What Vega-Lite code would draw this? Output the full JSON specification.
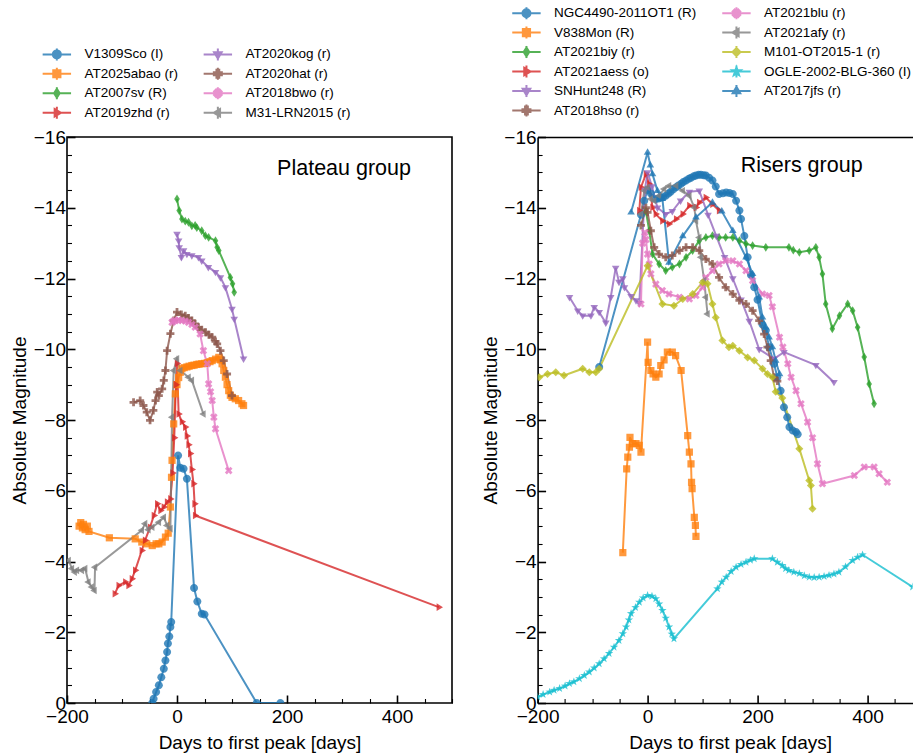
{
"$schema": "https://vega.github.io/schema/vega-lite/v6.json",
"padding": {"left": 9, "top": 6, "right": 0, "bottom": 4},
"background": "white",
"config": {
  "font": "Liberation Sans",
  "view": {"stroke": "black", "strokeWidth": 1.6},
  "axis": {"labelFont": "Liberation Sans", "labelFontSize": 19, "labelColor": "black", "titleFont": "Liberation Sans", "titleFontSize": 19, "titleFontWeight": "normal", "titleColor": "black", "grid": false, "tickColor": "black", "domainColor": "black", "domainWidth": 1.6, "labelOverlap": false, "labelFlush": false},
  "legend": {"labelFont": "Liberation Sans", "labelFontSize": 13.5, "labelColor": "black", "symbolSize": 64, "symbolStrokeWidth": 2, "symbolOpacity": 0.8, "labelOffset": 20.8, "columnPadding": 21, "rowPadding": -1.5, "padding": 0, "columns": 2, "orient": "none", "title": null},
  "title": {"font": "Liberation Sans", "fontWeight": "normal", "color": "black"}
},
"datasets": {
"plateau": [
{"s":"V1309Sco (I)","x":-45,"y":0},{"s":"V1309Sco (I)","x":-42.5,"y":-0.12},{"s":"V1309Sco (I)","x":-38,"y":-0.31},{"s":"V1309Sco (I)","x":-33,"y":-0.5},{"s":"V1309Sco (I)","x":-28.5,"y":-0.73},{"s":"V1309Sco (I)","x":-24,"y":-0.97},{"s":"V1309Sco (I)","x":-21,"y":-1.2},{"s":"V1309Sco (I)","x":-18,"y":-1.44},{"s":"V1309Sco (I)","x":-16.5,"y":-1.68},{"s":"V1309Sco (I)","x":-14,"y":-1.88},{"s":"V1309Sco (I)","x":-12,"y":-2.15},{"s":"V1309Sco (I)","x":-10.5,"y":-2.29},{"s":"V1309Sco (I)","x":2,"y":-7.0},{"s":"V1309Sco (I)","x":6,"y":-6.65},{"s":"V1309Sco (I)","x":12,"y":-6.62},{"s":"V1309Sco (I)","x":18,"y":-6.34},{"s":"V1309Sco (I)","x":31,"y":-3.25},{"s":"V1309Sco (I)","x":37,"y":-2.87},{"s":"V1309Sco (I)","x":45,"y":-2.52},{"s":"V1309Sco (I)","x":50,"y":-2.5},{"s":"V1309Sco (I)","x":145,"y":0},{"s":"V1309Sco (I)","x":188,"y":0},
{"s":"AT2025abao (r)","x":-178,"y":-5.0},{"s":"AT2025abao (r)","x":-175,"y":-5.1},{"s":"AT2025abao (r)","x":-172,"y":-4.95},{"s":"AT2025abao (r)","x":-170,"y":-5.05},{"s":"AT2025abao (r)","x":-167,"y":-4.9},{"s":"AT2025abao (r)","x":-163,"y":-5.0},{"s":"AT2025abao (r)","x":-160,"y":-4.85},{"s":"AT2025abao (r)","x":-123,"y":-4.67},{"s":"AT2025abao (r)","x":-76,"y":-4.64},{"s":"AT2025abao (r)","x":-64,"y":-4.55},{"s":"AT2025abao (r)","x":-55,"y":-4.5},{"s":"AT2025abao (r)","x":-45,"y":-4.45},{"s":"AT2025abao (r)","x":-38,"y":-4.5},{"s":"AT2025abao (r)","x":-33,"y":-4.5},{"s":"AT2025abao (r)","x":-27,"y":-4.55},{"s":"AT2025abao (r)","x":-21,"y":-4.69},{"s":"AT2025abao (r)","x":-16,"y":-4.8},{"s":"AT2025abao (r)","x":-12,"y":-5.54},{"s":"AT2025abao (r)","x":-10,"y":-6.38},{"s":"AT2025abao (r)","x":-9,"y":-6.86},{"s":"AT2025abao (r)","x":-6,"y":-7.89},{"s":"AT2025abao (r)","x":-3,"y":-8.74},{"s":"AT2025abao (r)","x":0,"y":-9.0},{"s":"AT2025abao (r)","x":3,"y":-9.2},{"s":"AT2025abao (r)","x":6,"y":-9.35},{"s":"AT2025abao (r)","x":9,"y":-9.45},{"s":"AT2025abao (r)","x":13,"y":-9.48},{"s":"AT2025abao (r)","x":18,"y":-9.5},{"s":"AT2025abao (r)","x":22,"y":-9.52},{"s":"AT2025abao (r)","x":27,"y":-9.54},{"s":"AT2025abao (r)","x":31,"y":-9.55},{"s":"AT2025abao (r)","x":36,"y":-9.57},{"s":"AT2025abao (r)","x":40,"y":-9.58},{"s":"AT2025abao (r)","x":45,"y":-9.59},{"s":"AT2025abao (r)","x":50,"y":-9.6},{"s":"AT2025abao (r)","x":55,"y":-9.62},{"s":"AT2025abao (r)","x":60,"y":-9.65},{"s":"AT2025abao (r)","x":64,"y":-9.68},{"s":"AT2025abao (r)","x":70,"y":-9.72},{"s":"AT2025abao (r)","x":76,"y":-9.77},{"s":"AT2025abao (r)","x":79,"y":-9.7},{"s":"AT2025abao (r)","x":82,"y":-9.59},{"s":"AT2025abao (r)","x":85,"y":-9.4},{"s":"AT2025abao (r)","x":88,"y":-9.21},{"s":"AT2025abao (r)","x":91,"y":-9.0},{"s":"AT2025abao (r)","x":94,"y":-8.83},{"s":"AT2025abao (r)","x":97,"y":-8.7},{"s":"AT2025abao (r)","x":100,"y":-8.64},{"s":"AT2025abao (r)","x":106,"y":-8.6},{"s":"AT2025abao (r)","x":112,"y":-8.55},{"s":"AT2025abao (r)","x":118,"y":-8.46},{"s":"AT2025abao (r)","x":121,"y":-8.41},
{"s":"AT2007sv (R)","x":0,"y":-14.25},{"s":"AT2007sv (R)","x":4,"y":-13.92},{"s":"AT2007sv (R)","x":9,"y":-13.68},{"s":"AT2007sv (R)","x":15,"y":-13.62},{"s":"AT2007sv (R)","x":21,"y":-13.59},{"s":"AT2007sv (R)","x":27,"y":-13.49},{"s":"AT2007sv (R)","x":33,"y":-13.5},{"s":"AT2007sv (R)","x":36,"y":-13.44},{"s":"AT2007sv (R)","x":45,"y":-13.35},{"s":"AT2007sv (R)","x":51.5,"y":-13.21},{"s":"AT2007sv (R)","x":57.5,"y":-13.16},{"s":"AT2007sv (R)","x":70,"y":-13.07},{"s":"AT2007sv (R)","x":73,"y":-12.88},{"s":"AT2007sv (R)","x":76,"y":-12.79},{"s":"AT2007sv (R)","x":97,"y":-12.03},{"s":"AT2007sv (R)","x":101,"y":-11.85},{"s":"AT2007sv (R)","x":104,"y":-11.61},
{"s":"AT2019zhd (r)","x":-113,"y":-3.09},{"s":"AT2019zhd (r)","x":-106,"y":-3.32},{"s":"AT2019zhd (r)","x":-94,"y":-3.42},{"s":"AT2019zhd (r)","x":-88,"y":-3.32},{"s":"AT2019zhd (r)","x":-82,"y":-3.51},{"s":"AT2019zhd (r)","x":-76,"y":-3.75},{"s":"AT2019zhd (r)","x":-64,"y":-4.31},{"s":"AT2019zhd (r)","x":-58,"y":-4.6},{"s":"AT2019zhd (r)","x":-49,"y":-4.97},{"s":"AT2019zhd (r)","x":-42,"y":-5.3},{"s":"AT2019zhd (r)","x":-36,"y":-5.63},{"s":"AT2019zhd (r)","x":-30,"y":-5.44},{"s":"AT2019zhd (r)","x":-24,"y":-5.54},{"s":"AT2019zhd (r)","x":-18,"y":-5.68},{"s":"AT2019zhd (r)","x":-12,"y":-5.77},{"s":"AT2019zhd (r)","x":-8,"y":-6.5},{"s":"AT2019zhd (r)","x":-5,"y":-7.5},{"s":"AT2019zhd (r)","x":-2,"y":-9.0},{"s":"AT2019zhd (r)","x":0,"y":-9.6},{"s":"AT2019zhd (r)","x":3,"y":-8.17},{"s":"AT2019zhd (r)","x":9,"y":-7.95},{"s":"AT2019zhd (r)","x":15,"y":-7.8},{"s":"AT2019zhd (r)","x":18,"y":-7.55},{"s":"AT2019zhd (r)","x":21,"y":-7.3},{"s":"AT2019zhd (r)","x":24,"y":-7.05},{"s":"AT2019zhd (r)","x":27,"y":-6.6},{"s":"AT2019zhd (r)","x":30,"y":-6.2},{"s":"AT2019zhd (r)","x":32,"y":-5.63},{"s":"AT2019zhd (r)","x":33,"y":-5.3},{"s":"AT2019zhd (r)","x":476,"y":-2.71},
{"s":"AT2020kog (r)","x":0,"y":-13.26},{"s":"AT2020kog (r)","x":3,"y":-13.07},{"s":"AT2020kog (r)","x":4,"y":-12.88},{"s":"AT2020kog (r)","x":8,"y":-12.6},{"s":"AT2020kog (r)","x":12,"y":-12.79},{"s":"AT2020kog (r)","x":18,"y":-12.69},{"s":"AT2020kog (r)","x":27,"y":-12.65},{"s":"AT2020kog (r)","x":39,"y":-12.6},{"s":"AT2020kog (r)","x":45,"y":-12.5},{"s":"AT2020kog (r)","x":57,"y":-12.32},{"s":"AT2020kog (r)","x":70,"y":-12.18},{"s":"AT2020kog (r)","x":79,"y":-12.03},{"s":"AT2020kog (r)","x":88,"y":-11.75},{"s":"AT2020kog (r)","x":100,"y":-11.14},{"s":"AT2020kog (r)","x":104,"y":-10.86},{"s":"AT2020kog (r)","x":121,"y":-9.73},
{"s":"AT2020hat (r)","x":-79,"y":-8.5},{"s":"AT2020hat (r)","x":-67,"y":-8.55},{"s":"AT2020hat (r)","x":-61,"y":-8.41},{"s":"AT2020hat (r)","x":-55,"y":-8.22},{"s":"AT2020hat (r)","x":-49,"y":-7.99},{"s":"AT2020hat (r)","x":-43,"y":-8.27},{"s":"AT2020hat (r)","x":-39,"y":-8.55},{"s":"AT2020hat (r)","x":-36,"y":-8.79},{"s":"AT2020hat (r)","x":-33,"y":-8.69},{"s":"AT2020hat (r)","x":-27,"y":-8.88},{"s":"AT2020hat (r)","x":-24,"y":-9.12},{"s":"AT2020hat (r)","x":-21,"y":-9.4},{"s":"AT2020hat (r)","x":-18,"y":-9.96},{"s":"AT2020hat (r)","x":-12,"y":-10.44},{"s":"AT2020hat (r)","x":-6,"y":-10.81},{"s":"AT2020hat (r)","x":0,"y":-11.05},{"s":"AT2020hat (r)","x":8,"y":-10.98},{"s":"AT2020hat (r)","x":15,"y":-10.95},{"s":"AT2020hat (r)","x":21,"y":-10.88},{"s":"AT2020hat (r)","x":27,"y":-10.81},{"s":"AT2020hat (r)","x":33,"y":-10.72},{"s":"AT2020hat (r)","x":39,"y":-10.62},{"s":"AT2020hat (r)","x":45,"y":-10.55},{"s":"AT2020hat (r)","x":52,"y":-10.48},{"s":"AT2020hat (r)","x":58,"y":-10.41},{"s":"AT2020hat (r)","x":64,"y":-10.34},{"s":"AT2020hat (r)","x":70,"y":-10.22},{"s":"AT2020hat (r)","x":73,"y":-10.15},{"s":"AT2020hat (r)","x":79,"y":-9.96},{"s":"AT2020hat (r)","x":85,"y":-9.68},{"s":"AT2020hat (r)","x":91,"y":-9.3},{"s":"AT2020hat (r)","x":100,"y":-8.69},
{"s":"AT2018bwo (r)","x":-9,"y":-10.76},{"s":"AT2018bwo (r)","x":-6,"y":-10.8},{"s":"AT2018bwo (r)","x":-3,"y":-10.81},{"s":"AT2018bwo (r)","x":3,"y":-10.83},{"s":"AT2018bwo (r)","x":9,"y":-10.81},{"s":"AT2018bwo (r)","x":15,"y":-10.8},{"s":"AT2018bwo (r)","x":21,"y":-10.76},{"s":"AT2018bwo (r)","x":27,"y":-10.7},{"s":"AT2018bwo (r)","x":33,"y":-10.62},{"s":"AT2018bwo (r)","x":42,"y":-10.43},{"s":"AT2018bwo (r)","x":48,"y":-9.96},{"s":"AT2018bwo (r)","x":55,"y":-9.59},{"s":"AT2018bwo (r)","x":57.5,"y":-9.02},{"s":"AT2018bwo (r)","x":61,"y":-8.8},{"s":"AT2018bwo (r)","x":64,"y":-8.55},{"s":"AT2018bwo (r)","x":67,"y":-8.08},{"s":"AT2018bwo (r)","x":70,"y":-7.75},{"s":"AT2018bwo (r)","x":94,"y":-6.57},
{"s":"M31-LRN2015 (r)","x":-197,"y":-4.03},{"s":"M31-LRN2015 (r)","x":-191,"y":-3.8},{"s":"M31-LRN2015 (r)","x":-186,"y":-3.7},{"s":"M31-LRN2015 (r)","x":-182,"y":-3.75},{"s":"M31-LRN2015 (r)","x":-173,"y":-3.75},{"s":"M31-LRN2015 (r)","x":-167,"y":-3.8},{"s":"M31-LRN2015 (r)","x":-161,"y":-3.42},{"s":"M31-LRN2015 (r)","x":-155,"y":-3.28},{"s":"M31-LRN2015 (r)","x":-150,"y":-3.18},{"s":"M31-LRN2015 (r)","x":-149,"y":-3.84},{"s":"M31-LRN2015 (r)","x":-64,"y":-4.88},{"s":"M31-LRN2015 (r)","x":-58,"y":-5.07},{"s":"M31-LRN2015 (r)","x":-52,"y":-4.9},{"s":"M31-LRN2015 (r)","x":-45,"y":-4.97},{"s":"M31-LRN2015 (r)","x":-33,"y":-5.11},{"s":"M31-LRN2015 (r)","x":-24,"y":-5.25},{"s":"M31-LRN2015 (r)","x":-18,"y":-5.02},{"s":"M31-LRN2015 (r)","x":-12,"y":-4.93},{"s":"M31-LRN2015 (r)","x":-9,"y":-8.08},{"s":"M31-LRN2015 (r)","x":-6,"y":-9.4},{"s":"M31-LRN2015 (r)","x":0,"y":-9.73},{"s":"M31-LRN2015 (r)","x":6,"y":-9.4},{"s":"M31-LRN2015 (r)","x":21,"y":-9.21},{"s":"M31-LRN2015 (r)","x":27,"y":-9.12},{"s":"M31-LRN2015 (r)","x":48,"y":-8.17}
],
"risers": [
{"s":"NGC4490-2011OT1 (R)","x":-88,"y":-9.5},{"s":"NGC4490-2011OT1 (R)","x":-12,"y":-13.8},{"s":"NGC4490-2011OT1 (R)","x":-6,"y":-14.2},{"s":"NGC4490-2011OT1 (R)","x":0,"y":-14.5},{"s":"NGC4490-2011OT1 (R)","x":6,"y":-14.4},{"s":"NGC4490-2011OT1 (R)","x":15,"y":-14.25},{"s":"NGC4490-2011OT1 (R)","x":20,"y":-14.26},{"s":"NGC4490-2011OT1 (R)","x":24,"y":-14.28},{"s":"NGC4490-2011OT1 (R)","x":28,"y":-14.3},{"s":"NGC4490-2011OT1 (R)","x":33,"y":-14.34},{"s":"NGC4490-2011OT1 (R)","x":38,"y":-14.4},{"s":"NGC4490-2011OT1 (R)","x":42,"y":-14.45},{"s":"NGC4490-2011OT1 (R)","x":47,"y":-14.52},{"s":"NGC4490-2011OT1 (R)","x":52,"y":-14.58},{"s":"NGC4490-2011OT1 (R)","x":56,"y":-14.63},{"s":"NGC4490-2011OT1 (R)","x":61,"y":-14.68},{"s":"NGC4490-2011OT1 (R)","x":65,"y":-14.73},{"s":"NGC4490-2011OT1 (R)","x":70,"y":-14.77},{"s":"NGC4490-2011OT1 (R)","x":75,"y":-14.82},{"s":"NGC4490-2011OT1 (R)","x":79,"y":-14.85},{"s":"NGC4490-2011OT1 (R)","x":84,"y":-14.89},{"s":"NGC4490-2011OT1 (R)","x":88,"y":-14.91},{"s":"NGC4490-2011OT1 (R)","x":93,"y":-14.93},{"s":"NGC4490-2011OT1 (R)","x":97,"y":-14.93},{"s":"NGC4490-2011OT1 (R)","x":102,"y":-14.92},{"s":"NGC4490-2011OT1 (R)","x":106,"y":-14.91},{"s":"NGC4490-2011OT1 (R)","x":112,"y":-14.85},{"s":"NGC4490-2011OT1 (R)","x":118,"y":-14.77},{"s":"NGC4490-2011OT1 (R)","x":124,"y":-14.6},{"s":"NGC4490-2011OT1 (R)","x":130,"y":-14.39},{"s":"NGC4490-2011OT1 (R)","x":137,"y":-14.41},{"s":"NGC4490-2011OT1 (R)","x":143,"y":-14.43},{"s":"NGC4490-2011OT1 (R)","x":149,"y":-14.42},{"s":"NGC4490-2011OT1 (R)","x":155,"y":-14.39},{"s":"NGC4490-2011OT1 (R)","x":161,"y":-14.2},{"s":"NGC4490-2011OT1 (R)","x":167,"y":-13.92},{"s":"NGC4490-2011OT1 (R)","x":170,"y":-13.68},{"s":"NGC4490-2011OT1 (R)","x":176,"y":-13.2},{"s":"NGC4490-2011OT1 (R)","x":182,"y":-12.6},{"s":"NGC4490-2011OT1 (R)","x":188,"y":-12.1},{"s":"NGC4490-2011OT1 (R)","x":194,"y":-11.75},{"s":"NGC4490-2011OT1 (R)","x":200,"y":-11.4},{"s":"NGC4490-2011OT1 (R)","x":209,"y":-10.7},{"s":"NGC4490-2011OT1 (R)","x":215,"y":-10.53},{"s":"NGC4490-2011OT1 (R)","x":221,"y":-10.06},{"s":"NGC4490-2011OT1 (R)","x":230,"y":-9.59},{"s":"NGC4490-2011OT1 (R)","x":236,"y":-9.21},{"s":"NGC4490-2011OT1 (R)","x":242,"y":-8.83},{"s":"NGC4490-2011OT1 (R)","x":248,"y":-8.36},{"s":"NGC4490-2011OT1 (R)","x":254,"y":-8.08},{"s":"NGC4490-2011OT1 (R)","x":258,"y":-7.8},{"s":"NGC4490-2011OT1 (R)","x":264,"y":-7.7},{"s":"NGC4490-2011OT1 (R)","x":270,"y":-7.66},{"s":"NGC4490-2011OT1 (R)","x":273,"y":-7.6},
{"s":"V838Mon (R)","x":-45,"y":-4.25},{"s":"V838Mon (R)","x":-38,"y":-6.62},{"s":"V838Mon (R)","x":-36,"y":-6.95},{"s":"V838Mon (R)","x":-33,"y":-7.23},{"s":"V838Mon (R)","x":-32,"y":-7.51},{"s":"V838Mon (R)","x":-27,"y":-7.33},{"s":"V838Mon (R)","x":-21,"y":-7.33},{"s":"V838Mon (R)","x":-15,"y":-7.28},{"s":"V838Mon (R)","x":-12,"y":-7.09},{"s":"V838Mon (R)","x":0,"y":-10.2},{"s":"V838Mon (R)","x":1,"y":-9.63},{"s":"V838Mon (R)","x":6,"y":-9.4},{"s":"V838Mon (R)","x":10,"y":-9.3},{"s":"V838Mon (R)","x":15,"y":-9.21},{"s":"V838Mon (R)","x":21,"y":-9.3},{"s":"V838Mon (R)","x":24,"y":-9.54},{"s":"V838Mon (R)","x":30,"y":-9.7},{"s":"V838Mon (R)","x":36,"y":-9.92},{"s":"V838Mon (R)","x":45,"y":-9.92},{"s":"V838Mon (R)","x":51,"y":-9.82},{"s":"V838Mon (R)","x":61,"y":-9.4},{"s":"V838Mon (R)","x":73,"y":-7.56},{"s":"V838Mon (R)","x":76,"y":-7.09},{"s":"V838Mon (R)","x":79,"y":-6.76},{"s":"V838Mon (R)","x":80,"y":-6.24},{"s":"V838Mon (R)","x":81,"y":-6.06},{"s":"V838Mon (R)","x":85,"y":-5.25},{"s":"V838Mon (R)","x":87,"y":-5.02},{"s":"V838Mon (R)","x":88,"y":-4.71},
{"s":"AT2021biy (r)","x":-3,"y":-13.9},{"s":"AT2021biy (r)","x":3,"y":-13.35},{"s":"AT2021biy (r)","x":9,"y":-12.69},{"s":"AT2021biy (r)","x":21,"y":-12.41},{"s":"AT2021biy (r)","x":33,"y":-12.22},{"s":"AT2021biy (r)","x":45,"y":-12.32},{"s":"AT2021biy (r)","x":58,"y":-12.41},{"s":"AT2021biy (r)","x":70,"y":-12.6},{"s":"AT2021biy (r)","x":82,"y":-12.79},{"s":"AT2021biy (r)","x":94,"y":-13.07},{"s":"AT2021biy (r)","x":106,"y":-13.16},{"s":"AT2021biy (r)","x":118,"y":-13.21},{"s":"AT2021biy (r)","x":130,"y":-13.16},{"s":"AT2021biy (r)","x":142,"y":-13.16},{"s":"AT2021biy (r)","x":155,"y":-13.16},{"s":"AT2021biy (r)","x":167,"y":-13.07},{"s":"AT2021biy (r)","x":179,"y":-12.98},{"s":"AT2021biy (r)","x":191,"y":-12.93},{"s":"AT2021biy (r)","x":215,"y":-12.88},{"s":"AT2021biy (r)","x":257,"y":-12.88},{"s":"AT2021biy (r)","x":265,"y":-12.8},{"s":"AT2021biy (r)","x":276,"y":-12.74},{"s":"AT2021biy (r)","x":294,"y":-12.79},{"s":"AT2021biy (r)","x":306,"y":-12.88},{"s":"AT2021biy (r)","x":312,"y":-12.6},{"s":"AT2021biy (r)","x":318,"y":-12.13},{"s":"AT2021biy (r)","x":324,"y":-11.28},{"s":"AT2021biy (r)","x":336,"y":-10.58},{"s":"AT2021biy (r)","x":349,"y":-10.95},{"s":"AT2021biy (r)","x":364,"y":-11.28},{"s":"AT2021biy (r)","x":373,"y":-11.09},{"s":"AT2021biy (r)","x":382,"y":-10.62},{"s":"AT2021biy (r)","x":394,"y":-9.78},{"s":"AT2021biy (r)","x":403,"y":-9.02},{"s":"AT2021biy (r)","x":412,"y":-8.46},
{"s":"AT2021aess (o)","x":-15,"y":-13.92},{"s":"AT2021aess (o)","x":-12,"y":-14.58},{"s":"AT2021aess (o)","x":-3,"y":-14.95},{"s":"AT2021aess (o)","x":3,"y":-14.67},{"s":"AT2021aess (o)","x":9,"y":-14.01},{"s":"AT2021aess (o)","x":15,"y":-13.82},{"s":"AT2021aess (o)","x":27,"y":-13.63},{"s":"AT2021aess (o)","x":39,"y":-13.54},{"s":"AT2021aess (o)","x":52,"y":-13.68},{"s":"AT2021aess (o)","x":64,"y":-13.82},{"s":"AT2021aess (o)","x":76,"y":-14.06},{"s":"AT2021aess (o)","x":88,"y":-14.01},{"s":"AT2021aess (o)","x":94,"y":-14.15},{"s":"AT2021aess (o)","x":106,"y":-14.29},{"s":"AT2021aess (o)","x":118,"y":-14.1},{"s":"AT2021aess (o)","x":130,"y":-13.92},
{"s":"SNHunt248 (R)","x":-142,"y":-11.47},{"s":"SNHunt248 (R)","x":-127,"y":-11.09},{"s":"SNHunt248 (R)","x":-118,"y":-10.95},{"s":"SNHunt248 (R)","x":-103,"y":-10.95},{"s":"SNHunt248 (R)","x":-97,"y":-11.19},{"s":"SNHunt248 (R)","x":-88,"y":-11.05},{"s":"SNHunt248 (R)","x":-76,"y":-10.75},{"s":"SNHunt248 (R)","x":-67,"y":-11.47},{"s":"SNHunt248 (R)","x":-58,"y":-12.3},{"s":"SNHunt248 (R)","x":-52,"y":-11.9},{"s":"SNHunt248 (R)","x":-45,"y":-12.0},{"s":"SNHunt248 (R)","x":-42,"y":-11.75},{"s":"SNHunt248 (R)","x":-30,"y":-11.5},{"s":"SNHunt248 (R)","x":-21,"y":-11.38},{"s":"SNHunt248 (R)","x":-15,"y":-11.3},{"s":"SNHunt248 (R)","x":-5,"y":-14.5},{"s":"SNHunt248 (R)","x":0,"y":-15.0},{"s":"SNHunt248 (R)","x":8,"y":-14.6},{"s":"SNHunt248 (R)","x":18,"y":-14.0},{"s":"SNHunt248 (R)","x":33,"y":-13.82},{"s":"SNHunt248 (R)","x":45,"y":-13.9},{"s":"SNHunt248 (R)","x":60,"y":-14.2},{"s":"SNHunt248 (R)","x":76,"y":-14.45},{"s":"SNHunt248 (R)","x":94,"y":-14.48},{"s":"SNHunt248 (R)","x":110,"y":-13.8},{"s":"SNHunt248 (R)","x":125,"y":-13.2},{"s":"SNHunt248 (R)","x":140,"y":-12.6},{"s":"SNHunt248 (R)","x":155,"y":-12.0},{"s":"SNHunt248 (R)","x":170,"y":-11.4},{"s":"SNHunt248 (R)","x":185,"y":-10.8},{"s":"SNHunt248 (R)","x":203,"y":-10.0},{"s":"SNHunt248 (R)","x":230,"y":-9.73},{"s":"SNHunt248 (R)","x":248,"y":-9.92},{"s":"SNHunt248 (R)","x":306,"y":-9.55},{"s":"SNHunt248 (R)","x":339,"y":-9.07},
{"s":"AT2018hso (r)","x":-12,"y":-13.5},{"s":"AT2018hso (r)","x":-3,"y":-14.0},{"s":"AT2018hso (r)","x":0,"y":-13.87},{"s":"AT2018hso (r)","x":6,"y":-13.35},{"s":"AT2018hso (r)","x":12,"y":-12.88},{"s":"AT2018hso (r)","x":21,"y":-12.69},{"s":"AT2018hso (r)","x":33,"y":-12.6},{"s":"AT2018hso (r)","x":45,"y":-12.65},{"s":"AT2018hso (r)","x":58,"y":-12.79},{"s":"AT2018hso (r)","x":70,"y":-12.88},{"s":"AT2018hso (r)","x":82,"y":-12.88},{"s":"AT2018hso (r)","x":94,"y":-12.79},{"s":"AT2018hso (r)","x":106,"y":-12.55},{"s":"AT2018hso (r)","x":118,"y":-12.41},{"s":"AT2018hso (r)","x":130,"y":-12.03},{"s":"AT2018hso (r)","x":142,"y":-11.75},{"s":"AT2018hso (r)","x":155,"y":-11.56},{"s":"AT2018hso (r)","x":167,"y":-11.38},{"s":"AT2018hso (r)","x":179,"y":-11.28},{"s":"AT2018hso (r)","x":191,"y":-11.09},{"s":"AT2018hso (r)","x":203,"y":-10.81},{"s":"AT2018hso (r)","x":212,"y":-10.43},{"s":"AT2018hso (r)","x":218,"y":-10.06},{"s":"AT2018hso (r)","x":224,"y":-9.68},{"s":"AT2018hso (r)","x":230,"y":-9.21},{"s":"AT2018hso (r)","x":236,"y":-9.1},
{"s":"AT2021blu (r)","x":-12,"y":-11.28},{"s":"AT2021blu (r)","x":-9,"y":-13.0},{"s":"AT2021blu (r)","x":-5,"y":-13.3},{"s":"AT2021blu (r)","x":-3,"y":-13.1},{"s":"AT2021blu (r)","x":0,"y":-12.69},{"s":"AT2021blu (r)","x":3,"y":-12.41},{"s":"AT2021blu (r)","x":6,"y":-12.13},{"s":"AT2021blu (r)","x":15,"y":-11.84},{"s":"AT2021blu (r)","x":27,"y":-11.66},{"s":"AT2021blu (r)","x":39,"y":-11.56},{"s":"AT2021blu (r)","x":58,"y":-11.47},{"s":"AT2021blu (r)","x":76,"y":-11.42},{"s":"AT2021blu (r)","x":88,"y":-11.52},{"s":"AT2021blu (r)","x":100,"y":-11.75},{"s":"AT2021blu (r)","x":106,"y":-12.03},{"s":"AT2021blu (r)","x":118,"y":-12.22},{"s":"AT2021blu (r)","x":130,"y":-12.41},{"s":"AT2021blu (r)","x":142,"y":-12.5},{"s":"AT2021blu (r)","x":155,"y":-12.5},{"s":"AT2021blu (r)","x":167,"y":-12.41},{"s":"AT2021blu (r)","x":179,"y":-12.22},{"s":"AT2021blu (r)","x":191,"y":-11.94},{"s":"AT2021blu (r)","x":209,"y":-11.56},{"s":"AT2021blu (r)","x":221,"y":-11.52},{"s":"AT2021blu (r)","x":227,"y":-11.2},{"s":"AT2021blu (r)","x":240,"y":-10.34},{"s":"AT2021blu (r)","x":246,"y":-10.06},{"s":"AT2021blu (r)","x":255,"y":-9.59},{"s":"AT2021blu (r)","x":261,"y":-9.21},{"s":"AT2021blu (r)","x":270,"y":-8.83},{"s":"AT2021blu (r)","x":279,"y":-8.46},{"s":"AT2021blu (r)","x":291,"y":-7.94},{"s":"AT2021blu (r)","x":300,"y":-7.5},{"s":"AT2021blu (r)","x":309,"y":-6.76},{"s":"AT2021blu (r)","x":318,"y":-6.2},{"s":"AT2021blu (r)","x":376,"y":-6.43},{"s":"AT2021blu (r)","x":394,"y":-6.67},{"s":"AT2021blu (r)","x":412,"y":-6.67},{"s":"AT2021blu (r)","x":421,"y":-6.48},{"s":"AT2021blu (r)","x":436,"y":-6.24},
{"s":"AT2021afy (r)","x":-12,"y":-13.82},{"s":"AT2021afy (r)","x":-6,"y":-14.48},{"s":"AT2021afy (r)","x":0,"y":-14.58},{"s":"AT2021afy (r)","x":6,"y":-14.25},{"s":"AT2021afy (r)","x":12,"y":-14.2},{"s":"AT2021afy (r)","x":21,"y":-14.34},{"s":"AT2021afy (r)","x":30,"y":-14.53},{"s":"AT2021afy (r)","x":39,"y":-14.62},{"s":"AT2021afy (r)","x":52,"y":-14.62},{"s":"AT2021afy (r)","x":64,"y":-14.48},{"s":"AT2021afy (r)","x":76,"y":-14.34},{"s":"AT2021afy (r)","x":85,"y":-14.01},{"s":"AT2021afy (r)","x":88,"y":-13.63},{"s":"AT2021afy (r)","x":94,"y":-13.16},{"s":"AT2021afy (r)","x":97,"y":-12.6},{"s":"AT2021afy (r)","x":103,"y":-11.94},{"s":"AT2021afy (r)","x":106,"y":-11.47},{"s":"AT2021afy (r)","x":109,"y":-11.0},
{"s":"M101-OT2015-1 (r)","x":-197,"y":-9.21},{"s":"M101-OT2015-1 (r)","x":-182,"y":-9.3},{"s":"M101-OT2015-1 (r)","x":-167,"y":-9.35},{"s":"M101-OT2015-1 (r)","x":-152,"y":-9.26},{"s":"M101-OT2015-1 (r)","x":-118,"y":-9.45},{"s":"M101-OT2015-1 (r)","x":-106,"y":-9.35},{"s":"M101-OT2015-1 (r)","x":-94,"y":-9.35},{"s":"M101-OT2015-1 (r)","x":-88,"y":-9.45},{"s":"M101-OT2015-1 (r)","x":0,"y":-12.36},{"s":"M101-OT2015-1 (r)","x":27,"y":-11.28},{"s":"M101-OT2015-1 (r)","x":48,"y":-11.23},{"s":"M101-OT2015-1 (r)","x":64,"y":-11.42},{"s":"M101-OT2015-1 (r)","x":82,"y":-11.56},{"s":"M101-OT2015-1 (r)","x":100,"y":-11.89},{"s":"M101-OT2015-1 (r)","x":109,"y":-11.85},{"s":"M101-OT2015-1 (r)","x":118,"y":-11.28},{"s":"M101-OT2015-1 (r)","x":124,"y":-10.9},{"s":"M101-OT2015-1 (r)","x":136,"y":-10.25},{"s":"M101-OT2015-1 (r)","x":148,"y":-10.06},{"s":"M101-OT2015-1 (r)","x":155,"y":-10.1},{"s":"M101-OT2015-1 (r)","x":167,"y":-9.96},{"s":"M101-OT2015-1 (r)","x":182,"y":-9.77},{"s":"M101-OT2015-1 (r)","x":194,"y":-9.68},{"s":"M101-OT2015-1 (r)","x":209,"y":-9.45},{"s":"M101-OT2015-1 (r)","x":218,"y":-9.3},{"s":"M101-OT2015-1 (r)","x":227,"y":-9.21},{"s":"M101-OT2015-1 (r)","x":233,"y":-8.8},{"s":"M101-OT2015-1 (r)","x":245,"y":-8.62},{"s":"M101-OT2015-1 (r)","x":276,"y":-7.19},{"s":"M101-OT2015-1 (r)","x":294,"y":-6.29},{"s":"M101-OT2015-1 (r)","x":297,"y":-6.15},{"s":"M101-OT2015-1 (r)","x":300,"y":-5.49},
{"s":"OGLE-2002-BLG-360 (I)","x":-200,"y":-0.17},{"s":"OGLE-2002-BLG-360 (I)","x":-190,"y":-0.24},{"s":"OGLE-2002-BLG-360 (I)","x":-178,"y":-0.31},{"s":"OGLE-2002-BLG-360 (I)","x":-170,"y":-0.36},{"s":"OGLE-2002-BLG-360 (I)","x":-160,"y":-0.41},{"s":"OGLE-2002-BLG-360 (I)","x":-150,"y":-0.48},{"s":"OGLE-2002-BLG-360 (I)","x":-142,"y":-0.55},{"s":"OGLE-2002-BLG-360 (I)","x":-134,"y":-0.6},{"s":"OGLE-2002-BLG-360 (I)","x":-124,"y":-0.69},{"s":"OGLE-2002-BLG-360 (I)","x":-115,"y":-0.78},{"s":"OGLE-2002-BLG-360 (I)","x":-106,"y":-0.88},{"s":"OGLE-2002-BLG-360 (I)","x":-97,"y":-0.99},{"s":"OGLE-2002-BLG-360 (I)","x":-88,"y":-1.11},{"s":"OGLE-2002-BLG-360 (I)","x":-79,"y":-1.25},{"s":"OGLE-2002-BLG-360 (I)","x":-70,"y":-1.4},{"s":"OGLE-2002-BLG-360 (I)","x":-61,"y":-1.58},{"s":"OGLE-2002-BLG-360 (I)","x":-52,"y":-1.77},{"s":"OGLE-2002-BLG-360 (I)","x":-45,"y":-1.96},{"s":"OGLE-2002-BLG-360 (I)","x":-39,"y":-2.15},{"s":"OGLE-2002-BLG-360 (I)","x":-34,"y":-2.35},{"s":"OGLE-2002-BLG-360 (I)","x":-30,"y":-2.53},{"s":"OGLE-2002-BLG-360 (I)","x":-22,"y":-2.7},{"s":"OGLE-2002-BLG-360 (I)","x":-15,"y":-2.85},{"s":"OGLE-2002-BLG-360 (I)","x":-8,"y":-2.97},{"s":"OGLE-2002-BLG-360 (I)","x":0,"y":-3.04},{"s":"OGLE-2002-BLG-360 (I)","x":8,"y":-3.02},{"s":"OGLE-2002-BLG-360 (I)","x":15,"y":-2.95},{"s":"OGLE-2002-BLG-360 (I)","x":21,"y":-2.8},{"s":"OGLE-2002-BLG-360 (I)","x":27,"y":-2.62},{"s":"OGLE-2002-BLG-360 (I)","x":33,"y":-2.4},{"s":"OGLE-2002-BLG-360 (I)","x":39,"y":-2.15},{"s":"OGLE-2002-BLG-360 (I)","x":44,"y":-1.95},{"s":"OGLE-2002-BLG-360 (I)","x":48,"y":-1.82},{"s":"OGLE-2002-BLG-360 (I)","x":127,"y":-3.23},{"s":"OGLE-2002-BLG-360 (I)","x":135,"y":-3.42},{"s":"OGLE-2002-BLG-360 (I)","x":143,"y":-3.56},{"s":"OGLE-2002-BLG-360 (I)","x":152,"y":-3.72},{"s":"OGLE-2002-BLG-360 (I)","x":161,"y":-3.84},{"s":"OGLE-2002-BLG-360 (I)","x":170,"y":-3.92},{"s":"OGLE-2002-BLG-360 (I)","x":179,"y":-3.98},{"s":"OGLE-2002-BLG-360 (I)","x":187,"y":-4.04},{"s":"OGLE-2002-BLG-360 (I)","x":194,"y":-4.08},{"s":"OGLE-2002-BLG-360 (I)","x":227,"y":-4.08},{"s":"OGLE-2002-BLG-360 (I)","x":236,"y":-3.98},{"s":"OGLE-2002-BLG-360 (I)","x":245,"y":-3.89},{"s":"OGLE-2002-BLG-360 (I)","x":251,"y":-3.8},{"s":"OGLE-2002-BLG-360 (I)","x":257,"y":-3.75},{"s":"OGLE-2002-BLG-360 (I)","x":266,"y":-3.7},{"s":"OGLE-2002-BLG-360 (I)","x":276,"y":-3.66},{"s":"OGLE-2002-BLG-360 (I)","x":285,"y":-3.6},{"s":"OGLE-2002-BLG-360 (I)","x":294,"y":-3.56},{"s":"OGLE-2002-BLG-360 (I)","x":303,"y":-3.55},{"s":"OGLE-2002-BLG-360 (I)","x":312,"y":-3.56},{"s":"OGLE-2002-BLG-360 (I)","x":321,"y":-3.58},{"s":"OGLE-2002-BLG-360 (I)","x":330,"y":-3.61},{"s":"OGLE-2002-BLG-360 (I)","x":339,"y":-3.65},{"s":"OGLE-2002-BLG-360 (I)","x":348,"y":-3.7},{"s":"OGLE-2002-BLG-360 (I)","x":360,"y":-3.85},{"s":"OGLE-2002-BLG-360 (I)","x":373,"y":-4.03},{"s":"OGLE-2002-BLG-360 (I)","x":382,"y":-4.12},{"s":"OGLE-2002-BLG-360 (I)","x":391,"y":-4.19},{"s":"OGLE-2002-BLG-360 (I)","x":482,"y":-3.28},
{"s":"AT2017jfs (r)","x":-30,"y":-13.87},{"s":"AT2017jfs (r)","x":0,"y":-15.56},{"s":"AT2017jfs (r)","x":5,"y":-15.2},{"s":"AT2017jfs (r)","x":9,"y":-14.95},{"s":"AT2017jfs (r)","x":18,"y":-14.48},{"s":"AT2017jfs (r)","x":27,"y":-14.25},{"s":"AT2017jfs (r)","x":39,"y":-12.45},{"s":"AT2017jfs (r)","x":64,"y":-13.2},{"s":"AT2017jfs (r)","x":88,"y":-13.73},{"s":"AT2017jfs (r)","x":118,"y":-14.15},{"s":"AT2017jfs (r)","x":135,"y":-13.9},{"s":"AT2017jfs (r)","x":155,"y":-13.35},{"s":"AT2017jfs (r)","x":179,"y":-12.6},{"s":"AT2017jfs (r)","x":191,"y":-12.13},{"s":"AT2017jfs (r)","x":203,"y":-11.47},{"s":"AT2017jfs (r)","x":209,"y":-10.9},{"s":"AT2017jfs (r)","x":215,"y":-10.62},{"s":"AT2017jfs (r)","x":221,"y":-10.34},{"s":"AT2017jfs (r)","x":227,"y":-10.06},{"s":"AT2017jfs (r)","x":233,"y":-9.68},{"s":"AT2017jfs (r)","x":240,"y":-9.3}
]
},
"hconcat": [
{
  "width": 385, "height": 566,
  "data": {"name": "plateau"},
  "title": {"text": "Plateau group", "frame": "group", "anchor": "end", "orient": "top", "offset": -149, "dx": -41, "baseline": "alphabetic", "fontSize": 21.5},
  "resolve": {"scale": {"shape": "independent", "fill": "independent", "stroke": "independent"}},
  "encoding": {
    "y": {"field": "y", "type": "quantitative", "scale": {"domain": [-16, 0], "reverse": true, "nice": false, "zero": false},
      "axis": {"title": "Absolute Magnitude", "domain": false, "values": [-16,-15.5,-15,-14.5,-14,-13.5,-13,-12.5,-12,-11.5,-11,-10.5,-10,-9.5,-9,-8.5,-8,-7.5,-7,-6.5,-6,-5.5,-5,-4.5,-4,-3.5,-3,-2.5,-2,-1.5,-1,-0.5,0],
        "tickSize": {"condition": {"test": "datum.value % 2 === 0", "value": -8}, "value": -4.5},
        "tickWidth": {"condition": {"test": "datum.value % 2 === 0", "value": 1.6}, "value": 1.1},
        "labelExpr": "datum.value % 2 === 0 ? (datum.value < 0 ? '\u2212' + abs(datum.value) : '0') : ''",
        "labelPadding": 9.5, "titlePadding": 3.5}},
    "x": {"field": "x", "type": "quantitative", "scale": {"domain": [-200, 500], "nice": false, "zero": false},
      "axis": {"title": "Days to first peak [days]", "domain": false, "values": [-200,-150,-100,-50,0,50,100,150,200,250,300,350,400,450,500],
        "tickSize": {"condition": {"test": "datum.value % 200 === 0", "value": -8}, "value": -4.5},
        "tickWidth": {"condition": {"test": "datum.value % 200 === 0", "value": 1.6}, "value": 1.1},
        "labelExpr": "datum.value % 200 === 0 ? (datum.value < 0 ? '\u2212' + abs(datum.value) : '' + datum.value) : ''",
        "labelPadding": 12, "titlePadding": 3.5}}
  },
  "layer": [
    {"mark": {"type": "line", "strokeWidth": 2, "opacity": 0.8, "clip": true},
     "encoding": {"color": {"field": "s", "type": "nominal", "legend": null,
       "scale": {"domain": ["V1309Sco (I)", "AT2025abao (r)", "AT2007sv (R)", "AT2019zhd (r)", "AT2020kog (r)", "AT2020hat (r)", "AT2018bwo (r)", "M31-LRN2015 (r)"],
                 "range": ["#1f77b4", "#ff7f0e", "#2ca02c", "#d62728", "#9467bd", "#8c564b", "#e377c2", "#7f7f7f"]}}}},
    {"mark": {"type": "point", "filled": true, "size": 64, "opacity": 0.8, "clip": true},
     "encoding": {
       "color": {"field": "s", "type": "nominal", "legend": null,
         "scale": {"domain": ["V1309Sco (I)", "AT2025abao (r)", "AT2007sv (R)", "AT2019zhd (r)", "AT2020kog (r)", "AT2020hat (r)", "AT2018bwo (r)", "M31-LRN2015 (r)"],
                   "range": ["#1f77b4", "#ff7f0e", "#2ca02c", "#d62728", "#9467bd", "#8c564b", "#e377c2", "#7f7f7f"]}},
       "shape": {"field": "s", "type": "nominal", "legend": null,
         "scale": {"domain": ["M31-LRN2015 (r)", "AT2018bwo (r)", "AT2020hat (r)", "AT2020kog (r)", "AT2019zhd (r)", "AT2007sv (R)", "AT2025abao (r)", "V1309Sco (I)"],
                 "range": ["M-1.05,0L0.55,-0.95L0.55,0.95Z", "M-0.95,-0.45L-0.45,-0.95L0,-0.5L0.45,-0.95L0.95,-0.45L0.5,0L0.95,0.45L0.45,0.95L0,0.5L-0.45,0.95L-0.95,0.45L-0.5,0Z", "M-0.35,-1H0.35V-0.35H1V0.35H0.35V1H-0.35V0.35H-1V-0.35H-0.35Z", "M0,1.05L-0.95,-0.55L0.95,-0.55Z", "M1.05,0L-0.55,-0.95L-0.55,0.95Z", "M0,-1.1L0.7,0L0,1.1L-0.7,0Z", "M-0.9,-0.9H0.9V0.9H-0.9Z", "M1,0A1,1,0,1,1,-1,0A1,1,0,1,1,1,0Z"]}}}},
    {"mark": {"type": "point", "size": 64, "opacity": 0, "clip": true},
     "encoding": {
       "fill": {"field": "s", "type": "nominal",
         "scale": {"domain": ["V1309Sco (I)", "AT2025abao (r)", "AT2007sv (R)", "AT2019zhd (r)", "AT2020kog (r)", "AT2020hat (r)", "AT2018bwo (r)", "M31-LRN2015 (r)"],
                   "range": ["#1f77b4", "#ff7f0e", "#2ca02c", "#d62728", "#9467bd", "#8c564b", "#e377c2", "#7f7f7f"]},
         "legend": {"orient": "none", "legendX": -16.9, "legendY": -89.5, "columns": 2, "title": null, "symbolOpacity": 0.8, "symbolStrokeWidth": 2}},
       "stroke": {"field": "s", "type": "nominal",
         "scale": {"domain": ["V1309Sco (I)", "AT2025abao (r)", "AT2007sv (R)", "AT2019zhd (r)", "AT2020kog (r)", "AT2020hat (r)", "AT2018bwo (r)", "M31-LRN2015 (r)"],
                   "range": ["#1f77b4", "#ff7f0e", "#2ca02c", "#d62728", "#9467bd", "#8c564b", "#e377c2", "#7f7f7f"]},
         "legend": {"orient": "none", "legendX": -16.9, "legendY": -89.5, "columns": 2, "title": null, "symbolOpacity": 0.8, "symbolStrokeWidth": 2}},
       "shape": {"field": "s", "type": "nominal",
         "scale": {"domain": ["V1309Sco (I)", "AT2025abao (r)", "AT2007sv (R)", "AT2019zhd (r)", "AT2020kog (r)", "AT2020hat (r)", "AT2018bwo (r)", "M31-LRN2015 (r)"],
                   "range": ["M-3.55,0H3.55M0,-1.5V1.5M1,0A1,1,0,1,1,-1,0A1,1,0,1,1,1,0Z", "M-3.55,0H3.55M0,-1.5V1.5M-0.9,-0.9H0.9V0.9H-0.9Z", "M-3.55,0H3.55M0,-1.5V1.5M0,-1.1L0.7,0L0,1.1L-0.7,0Z", "M-3.55,0H3.55M0,-1.5V1.5M1.05,0L-0.55,-0.95L-0.55,0.95Z", "M-3.55,0H3.55M0,-1.5V1.5M0,1.05L-0.95,-0.55L0.95,-0.55Z", "M-3.55,0H3.55M0,-1.5V1.5M-0.35,-1H0.35V-0.35H1V0.35H0.35V1H-0.35V0.35H-1V-0.35H-0.35Z", "M-3.55,0H3.55M0,-1.5V1.5M-0.95,-0.45L-0.45,-0.95L0,-0.5L0.45,-0.95L0.95,-0.45L0.5,0L0.95,0.45L0.45,0.95L0,0.5L-0.45,0.95L-0.95,0.45L-0.5,0Z", "M-3.55,0H3.55M0,-1.5V1.5M-1.05,0L0.55,-0.95L0.55,0.95Z"]},
         "legend": {"orient": "none", "legendX": -16.9, "legendY": -89.5, "columns": 2, "title": null, "symbolOpacity": 0.8, "symbolStrokeWidth": 2}}}}
  ]
},
{
  "width": 375, "height": 566,
  "data": {"name": "risers"},
  "view": {"stroke": null},
  "title": {"text": "Risers group", "frame": "group", "anchor": "end", "orient": "top", "offset": -187, "dx": -50, "baseline": "alphabetic", "fontSize": 21.5},
  "resolve": {"axis": {"x": "independent"}, "scale": {"shape": "independent", "fill": "independent", "stroke": "independent"}},
  "encoding": {
    "y": {"field": "y", "type": "quantitative", "scale": {"domain": [-16, 0], "reverse": true, "nice": false, "zero": false},
      "axis": {"title": "Absolute Magnitude", "domain": true, "values": [-16,-15.5,-15,-14.5,-14,-13.5,-13,-12.5,-12,-11.5,-11,-10.5,-10,-9.5,-9,-8.5,-8,-7.5,-7,-6.5,-6,-5.5,-5,-4.5,-4,-3.5,-3,-2.5,-2,-1.5,-1,-0.5,0],
        "tickSize": {"condition": {"test": "datum.value % 2 === 0", "value": -8}, "value": -4.5},
        "tickWidth": {"condition": {"test": "datum.value % 2 === 0", "value": 1.6}, "value": 1.1},
        "labelExpr": "datum.value % 2 === 0 ? (datum.value < 0 ? '\u2212' + abs(datum.value) : '0') : ''",
        "labelPadding": 9.5, "titlePadding": 3.5}}
  },
  "layer": [
    {"mark": {"type": "line", "strokeWidth": 2, "opacity": 0.8, "clip": true},
     "encoding": {
       "x": {"field": "x", "type": "quantitative", "scale": {"domain": [-200, 482], "nice": false, "zero": false},
         "axis": {"orient": "top", "labels": false, "ticks": false, "title": null, "domain": true}},
       "color": {"field": "s", "type": "nominal", "legend": null,
         "scale": {"domain": ["NGC4490-2011OT1 (R)", "V838Mon (R)", "AT2021biy (r)", "AT2021aess (o)", "SNHunt248 (R)", "AT2018hso (r)", "AT2021blu (r)", "AT2021afy (r)", "M101-OT2015-1 (r)", "OGLE-2002-BLG-360 (I)", "AT2017jfs (r)"],
                   "range": ["#1f77b4", "#ff7f0e", "#2ca02c", "#d62728", "#9467bd", "#8c564b", "#e377c2", "#7f7f7f", "#bcbd22", "#17becf", "#1f77b4"]}}}},
    {"mark": {"type": "point", "filled": true, "size": 64, "opacity": 0.8, "clip": true},
     "encoding": {
       "x": {"field": "x", "type": "quantitative", "scale": {"domain": [-200, 482], "nice": false, "zero": false},
        "axis": {"title": "Days to first peak [days]", "domain": true, "values": [-200,-150,-100,-50,0,50,100,150,200,250,300,350,400,450],
          "tickSize": {"condition": {"test": "datum.value % 200 === 0", "value": -8}, "value": -4.5},
          "tickWidth": {"condition": {"test": "datum.value % 200 === 0", "value": 1.6}, "value": 1.1},
          "labelExpr": "datum.value % 200 === 0 ? (datum.value < 0 ? '\u2212' + abs(datum.value) : '' + datum.value) : ''",
          "labelPadding": 12, "titlePadding": 3.5, "titleX": 192.5}},
       "color": {"field": "s", "type": "nominal", "legend": null,
         "scale": {"domain": ["NGC4490-2011OT1 (R)", "V838Mon (R)", "AT2021biy (r)", "AT2021aess (o)", "SNHunt248 (R)", "AT2018hso (r)", "AT2021blu (r)", "AT2021afy (r)", "M101-OT2015-1 (r)", "OGLE-2002-BLG-360 (I)", "AT2017jfs (r)"],
                   "range": ["#1f77b4", "#ff7f0e", "#2ca02c", "#d62728", "#9467bd", "#8c564b", "#e377c2", "#7f7f7f", "#bcbd22", "#17becf", "#1f77b4"]}},
       "shape": {"field": "s", "type": "nominal", "legend": null,
       "scale": {"domain": ["AT2017jfs (r)", "OGLE-2002-BLG-360 (I)", "M101-OT2015-1 (r)", "AT2021afy (r)", "AT2021blu (r)", "AT2018hso (r)", "SNHunt248 (R)", "AT2021aess (o)", "AT2021biy (r)", "V838Mon (R)", "NGC4490-2011OT1 (R)"],
                 "range": ["M0,-1.05L0.95,0.55L-0.95,0.55Z", "M0,-1.1L0.26,-0.36L1.05,-0.34L0.42,0.14L0.65,0.89L0,0.44L-0.65,0.89L-0.42,0.14L-1.05,-0.34L-0.26,-0.36Z", "M0,-1L1,0L0,1L-1,0Z", "M-1.05,0L0.55,-0.95L0.55,0.95Z", "M-0.95,-0.45L-0.45,-0.95L0,-0.5L0.45,-0.95L0.95,-0.45L0.5,0L0.95,0.45L0.45,0.95L0,0.5L-0.45,0.95L-0.95,0.45L-0.5,0Z", "M-0.35,-1H0.35V-0.35H1V0.35H0.35V1H-0.35V0.35H-1V-0.35H-0.35Z", "M0,1.05L-0.95,-0.55L0.95,-0.55Z", "M1.05,0L-0.55,-0.95L-0.55,0.95Z", "M0,-1.1L0.7,0L0,1.1L-0.7,0Z", "M-0.9,-0.9H0.9V0.9H-0.9Z", "M1,0A1,1,0,1,1,-1,0A1,1,0,1,1,1,0Z"]}}}},
    {"mark": {"type": "point", "size": 64, "opacity": 0, "clip": true},
     "encoding": {
       "x": {"field": "x", "type": "quantitative", "scale": {"domain": [-200, 482], "nice": false, "zero": false}, "axis": null},
       "fill": {"field": "s", "type": "nominal",
         "scale": {"domain": ["NGC4490-2011OT1 (R)", "V838Mon (R)", "AT2021biy (r)", "AT2021aess (o)", "SNHunt248 (R)", "AT2018hso (r)", "AT2021blu (r)", "AT2021afy (r)", "M101-OT2015-1 (r)", "OGLE-2002-BLG-360 (I)", "AT2017jfs (r)"],
                   "range": ["#1f77b4", "#ff7f0e", "#2ca02c", "#d62728", "#9467bd", "#8c564b", "#e377c2", "#7f7f7f", "#bcbd22", "#17becf", "#1f77b4"]},
         "legend": {"orient": "none", "legendX": -17.9, "legendY": -130.7, "columns": 2, "title": null, "symbolOpacity": 0.8, "symbolStrokeWidth": 2}},
       "stroke": {"field": "s", "type": "nominal",
         "scale": {"domain": ["NGC4490-2011OT1 (R)", "V838Mon (R)", "AT2021biy (r)", "AT2021aess (o)", "SNHunt248 (R)", "AT2018hso (r)", "AT2021blu (r)", "AT2021afy (r)", "M101-OT2015-1 (r)", "OGLE-2002-BLG-360 (I)", "AT2017jfs (r)"],
                   "range": ["#1f77b4", "#ff7f0e", "#2ca02c", "#d62728", "#9467bd", "#8c564b", "#e377c2", "#7f7f7f", "#bcbd22", "#17becf", "#1f77b4"]},
         "legend": {"orient": "none", "legendX": -17.9, "legendY": -130.7, "columns": 2, "title": null, "symbolOpacity": 0.8, "symbolStrokeWidth": 2}},
       "shape": {"field": "s", "type": "nominal",
         "scale": {"domain": ["NGC4490-2011OT1 (R)", "V838Mon (R)", "AT2021biy (r)", "AT2021aess (o)", "SNHunt248 (R)", "AT2018hso (r)", "AT2021blu (r)", "AT2021afy (r)", "M101-OT2015-1 (r)", "OGLE-2002-BLG-360 (I)", "AT2017jfs (r)"],
                   "range": ["M-3.55,0H3.55M0,-1.5V1.5M1,0A1,1,0,1,1,-1,0A1,1,0,1,1,1,0Z", "M-3.55,0H3.55M0,-1.5V1.5M-0.9,-0.9H0.9V0.9H-0.9Z", "M-3.55,0H3.55M0,-1.5V1.5M0,-1.1L0.7,0L0,1.1L-0.7,0Z", "M-3.55,0H3.55M0,-1.5V1.5M1.05,0L-0.55,-0.95L-0.55,0.95Z", "M-3.55,0H3.55M0,-1.5V1.5M0,1.05L-0.95,-0.55L0.95,-0.55Z", "M-3.55,0H3.55M0,-1.5V1.5M-0.35,-1H0.35V-0.35H1V0.35H0.35V1H-0.35V0.35H-1V-0.35H-0.35Z", "M-3.55,0H3.55M0,-1.5V1.5M-0.95,-0.45L-0.45,-0.95L0,-0.5L0.45,-0.95L0.95,-0.45L0.5,0L0.95,0.45L0.45,0.95L0,0.5L-0.45,0.95L-0.95,0.45L-0.5,0Z", "M-3.55,0H3.55M0,-1.5V1.5M-1.05,0L0.55,-0.95L0.55,0.95Z", "M-3.55,0H3.55M0,-1.5V1.5M0,-1L1,0L0,1L-1,0Z", "M-3.55,0H3.55M0,-1.5V1.5M0,-1.1L0.26,-0.36L1.05,-0.34L0.42,0.14L0.65,0.89L0,0.44L-0.65,0.89L-0.42,0.14L-1.05,-0.34L-0.26,-0.36Z", "M-3.55,0H3.55M0,-1.5V1.5M0,-1.05L0.95,0.55L-0.95,0.55Z"]},
         "legend": {"orient": "none", "legendX": -17.9, "legendY": -130.7, "columns": 2, "title": null, "symbolOpacity": 0.8, "symbolStrokeWidth": 2}}}}
  ]
}
],
"spacing": 26.6,
"resolve": {"scale": {"color": "independent", "shape": "independent", "fill": "independent", "stroke": "independent"}, "legend": {"color": "independent", "shape": "independent", "fill": "independent", "stroke": "independent"}}
}
